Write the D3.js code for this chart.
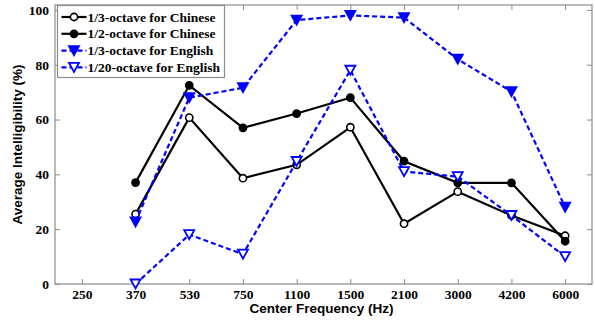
<!DOCTYPE html>
<html>
<head>
<meta charset="utf-8">
<script src="https://cdn.jsdelivr.net/npm/d3@7"></script>
<style>
  body { margin: 0; background: #fff; }
  svg { display: block; }
</style>
</head>
<body>
<svg id="chart" width="595" height="320"></svg>
<script>
// center frequencies (Hz)
const categories = ["250", "370", "530", "750", "1100", "1500", "2100", "3000", "4200", "6000"];
const yTicks = [0, 20, 40, 60, 80, 100];

// average intelligibility (%), starting at 370 Hz
const third_chinese = [25.5, 60.7, 38.6, 43.5, 57.2, 22, 33.7, 25, 17.6];
const half_chinese = [37, 72.5, 57, 62.2, 68, 44.8, 36.9, 36.9, 15.6];
const third_english = [22.7, 68, 71.6, 96.3, 98, 97.2, 82, 70.2, 28];
const twentieth_english = [0, 18, 10.9, 44.7, 78, 41, 39.2, 25, 10];

const seriesNames = ["1/3-octave for Chinese", "1/2-octave for Chinese", "1/3-octave for English", "1/20-octave for English"];

const series = [
    { name: seriesNames[0], values: third_chinese, color: "#000", dash: null, marker: "circle", filled: false },
    { name: seriesNames[1], values: half_chinese, color: "#000", dash: null, marker: "circle", filled: true },
    { name: seriesNames[2], values: third_english, color: "#0000ff", dash: "5,3", marker: "triangle", filled: true },
    { name: seriesNames[3], values: twentieth_english, color: "#0000ff", dash: "5,3", marker: "triangle", filled: false }
];

const margin = { top: 5, right: 3, bottom: 36, left: 55 };
const width = 595 - margin.left - margin.right;
const height = 320 - margin.top - margin.bottom;
const axisColor = "#8c8c8c";
const serif = "'Liberation Serif', 'Times New Roman', serif";
const sans = "'Liberation Sans', Arial, sans-serif";

const svg = d3.select("#chart");
const g = svg.append("g").attr("transform", `translate(${margin.left},${margin.top})`);

// index based x so that the gaps stay equal
const x = d3.scaleLinear().domain([0.5, categories.length + 0.5]).range([0, width]);
const y = d3.scaleLinear().domain([0, 101.8]).range([height, 0]);

const tickLen = 5;

// bottom + top ticks
const xIdx = categories.map((c, i) => i + 1);
g.append("g")
    .attr("transform", `translate(0,${height})`)
    .call(d3.axisBottom(x).tickValues(xIdx).tickFormat(i => categories[i - 1]).tickSizeInner(-tickLen).tickSizeOuter(0).tickPadding(5))
    .call(ax => ax.select(".domain").remove())
    .call(ax => ax.selectAll("line").attr("stroke", axisColor))
    .call(ax => ax.selectAll("text").attr("font-family", serif).attr("font-weight", "bold").attr("font-size", 13.5).attr("fill", "#000"));
g.append("g")
    .call(d3.axisTop(x).tickValues(xIdx).tickFormat("").tickSizeInner(-tickLen).tickSizeOuter(0))
    .call(ax => ax.select(".domain").remove())
    .call(ax => ax.selectAll("line").attr("stroke", axisColor));

// left + right ticks
g.append("g")
    .call(d3.axisLeft(y).tickValues(yTicks).tickSizeInner(-tickLen).tickSizeOuter(0).tickPadding(6))
    .call(ax => ax.select(".domain").remove())
    .call(ax => ax.selectAll("line").attr("stroke", axisColor))
    .call(ax => ax.selectAll("text").attr("font-family", serif).attr("font-weight", "bold").attr("font-size", 13.5).attr("fill", "#000"));
g.append("g")
    .attr("transform", `translate(${width},0)`)
    .call(d3.axisRight(y).tickValues(yTicks).tickFormat("").tickSizeInner(-tickLen).tickSizeOuter(0))
    .call(ax => ax.select(".domain").remove())
    .call(ax => ax.selectAll("line").attr("stroke", axisColor));

// frame
g.append("rect")
    .attr("width", width).attr("height", height)
    .attr("fill", "none").attr("stroke", axisColor).attr("stroke-width", 1.2);

// axis titles
svg.append("text")
    .attr("x", margin.left + width / 2 - 2).attr("y", 313)
    .attr("text-anchor", "middle")
    .attr("font-family", sans).attr("font-weight", "bold").attr("font-size", 13.5)
    .text("Center Frequency (Hz)");
svg.append("text")
    .attr("transform", `translate(22,${margin.top + height / 2}) rotate(-90)`)
    .attr("text-anchor", "middle")
    .attr("font-family", sans).attr("font-weight", "bold").attr("font-size", 13.5)
    .text("Average Intelligibility (%)");

function drawMarker(sel, s) {
    if (s.marker === "circle") {
        sel.append("circle").attr("r", 3.6)
            .attr("fill", s.filled ? s.color : "#fff")
            .attr("stroke", s.color).attr("stroke-width", 1.6);
    } else {
        sel.append("path").attr("d", "M-5,-4.5L5,-4.5L0,4.5Z")
            .attr("fill", s.filled ? s.color : "#fff")
            .attr("stroke", s.color).attr("stroke-width", 1.8)
            .attr("stroke-linejoin", "miter");
    }
}

const line = d3.line().x((d, i) => x(i + 2)).y(d => y(d));

series.forEach(s => {
    g.append("path")
        .datum(s.values)
        .attr("d", line)
        .attr("fill", "none")
        .attr("stroke", s.color)
        .attr("stroke-width", 2.2)
        .attr("stroke-dasharray", s.dash);
    g.selectAll(null)
        .data(s.values)
        .join("g")
        .attr("transform", (d, i) => `translate(${x(i + 2)},${y(d)})`)
        .each(function() { drawMarker(d3.select(this), s); });
});

// legend
const legend = svg.append("g").attr("transform", "translate(57.5,5.5)");
legend.append("rect")
    .attr("width", 167).attr("height", 72)
    .attr("fill", "#fff").attr("stroke", axisColor).attr("stroke-width", 1.2);
series.forEach((s, i) => {
    const row = legend.append("g").attr("transform", `translate(0,${11.5 + i * 16.8})`);
    row.append("line")
        .attr("x1", 4).attr("x2", 29)
        .attr("stroke", s.color).attr("stroke-width", 2.2)
        .attr("stroke-dasharray", s.dash);
    drawMarker(row.append("g").attr("transform", "translate(16.5,0)"), s);
    row.append("text")
        .attr("x", 30).attr("y", 4.5)
        .attr("font-family", serif).attr("font-weight", "bold").attr("font-size", 13.5)
        .text(s.name);
});
</script>
</body>
</html>
